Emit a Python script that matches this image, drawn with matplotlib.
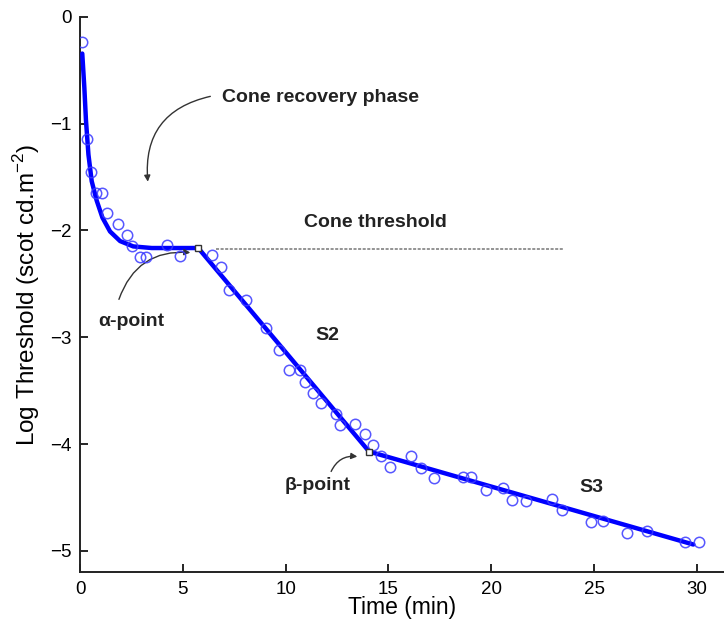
import matplotlib
matplotlib.use("Agg")
import matplotlib.pyplot as plt

plt.rcParams['font.family'] = ['Liberation Sans', 'DejaVu Sans']
plt.rcParams['mathtext.fontset'] = 'custom'
plt.rcParams['mathtext.rm'] = 'Liberation Sans'

# measured thresholds (open circles)
time_pts = [0.11, 0.36, 0.52, 0.78, 1.09, 1.30, 1.83, 2.27, 2.55, 2.92, 3.21, 4.25, 4.85,
            6.40, 6.84, 7.26, 8.07, 9.05, 9.69, 10.18, 10.70, 10.94, 11.33, 11.73, 12.44,
            12.66, 13.35, 13.86, 14.25, 14.66, 15.09, 16.12, 16.58, 17.22, 18.61, 19.00,
            19.75, 20.57, 21.02, 21.68, 22.94, 23.45, 24.86, 25.44, 26.62, 27.58, 29.40, 30.10]
thresh_pts = [-0.24, -1.14, -1.45, -1.65, -1.65, -1.84, -1.94, -2.04, -2.15, -2.25, -2.25, -2.14, -2.24,
              -2.23, -2.34, -2.56, -2.65, -2.91, -3.12, -3.31, -3.31, -3.42, -3.52, -3.62, -3.72,
              -3.82, -3.81, -3.91, -4.01, -4.11, -4.21, -4.11, -4.22, -4.32, -4.31, -4.31,
              -4.43, -4.41, -4.52, -4.53, -4.51, -4.62, -4.73, -4.72, -4.83, -4.81, -4.92, -4.92]

# fitted curve
fit_t = [0.11, 0.21, 0.29, 0.41, 0.57, 0.81, 1.09, 1.46, 1.95, 2.59, 3.49, 5.75, 14.06, 29.83]
fit_y = [-0.345, -0.66, -0.97, -1.29, -1.54, -1.72, -1.88, -2.01, -2.10, -2.15, -2.165, -2.165, -4.07, -4.94]

# break points
alpha_pt = (5.75, -2.165)
beta_pt = (14.06, -4.07)

# cone threshold reference line
cone_t = [6.6, 23.5]
cone_y = [-2.17, -2.17]

fig = plt.figure(figsize=(7.24, 6.28), dpi=100)
ax = fig.add_axes([0.1105, 0.0887, 0.8895, 0.8847])

ax.plot(cone_t, cone_y, color='#777777', linestyle=(0, (2, 1)), linewidth=1.1)
ax.plot(fit_t, fit_y, color='#0000ff', linewidth=3.2, solid_capstyle='round', zorder=3)
ax.plot(time_pts, thresh_pts, linestyle='none', marker='o', markersize=7.5,
        markerfacecolor='none', markeredgecolor='#3a3aff', markeredgewidth=1.1, alpha=0.85, zorder=4)
for p in (alpha_pt, beta_pt):
    ax.plot([p[0]], [p[1]], marker='s', markersize=4.5, markerfacecolor='white',
            markeredgecolor='#333333', markeredgewidth=1.0, zorder=5)

ax.set_xlim(0, 31.32)
ax.set_ylim(-5.2, 0)
ax.set_xticks([0, 5, 10, 15, 20, 25, 30])
ax.set_yticks([0, -1, -2, -3, -4, -5])
ax.set_yticklabels(['0', '\u22121', '\u22122', '\u22123', '\u22124', '\u22125'])
ax.tick_params(direction='in', length=6, width=1.2, labelsize=13.5, pad=6)
for s in ('top', 'right'):
    ax.spines[s].set_visible(False)
for s in ('left', 'bottom'):
    ax.spines[s].set_linewidth(1.4)
    ax.spines[s].set_color('#222222')

ax.set_xlabel('Time (min)', fontsize=16.5, labelpad=-1)
ax.set_ylabel('Log Threshold (scot cd.m$^{-2}$)', fontsize=17.5, labelpad=6)

tkw = dict(fontsize=14, fontweight='bold', color='#222222', va='center', ha='left')
ax.text(6.9, -0.755, 'Cone recovery phase', **tkw)
ax.text(10.9, -1.93, 'Cone threshold', **tkw)
ax.text(0.88, -2.855, '\u03b1-point', **tkw)
ax.text(9.97, -4.39, '\u03b2-point', **tkw)
ax.text(11.43, -2.98, 'S2', **tkw)
ax.text(24.27, -4.41, 'S3', **tkw)

akw = dict(arrowstyle='-|>', color='#333333', lw=1.0, mutation_scale=9)
ax.annotate('', xy=(3.31, -1.57), xytext=(6.47, -0.74),
            arrowprops=dict(connectionstyle='arc3,rad=0.45', **akw))
ax.annotate('', xy=(5.5, -2.21), xytext=(1.85, -2.67),
            arrowprops=dict(connectionstyle='arc3,rad=-0.4', **akw))
ax.annotate('', xy=(13.62, -4.12), xytext=(12.16, -4.28),
            arrowprops=dict(connectionstyle='arc3,rad=-0.4', **akw))

fig.savefig('out.png', dpi=100)
